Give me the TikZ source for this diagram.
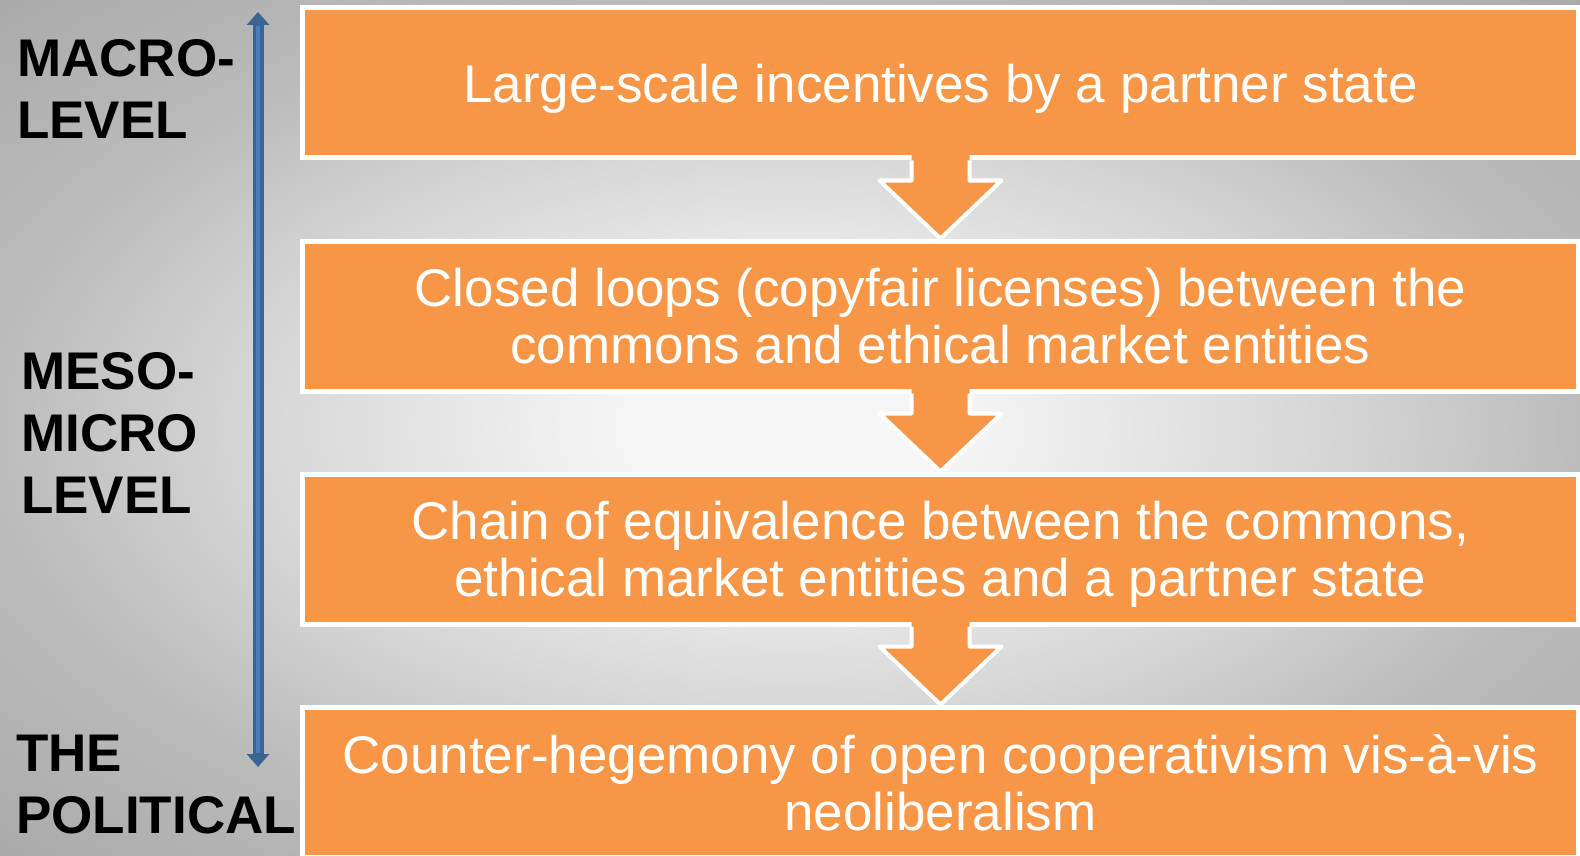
\documentclass[tikz,border=0pt]{standalone}
\usepackage{fontspec}
\setmainfont{Liberation Sans}
\usetikzlibrary{positioning,calc,arrows.meta}
\definecolor{boxorange}{HTML}{F79646}
\definecolor{scaleblue}{HTML}{4A7EBB}
\definecolor{scaledark}{HTML}{3A6494}
\definecolor{bgin}{HTML}{F6F6F6}
\definecolor{bgmid}{HTML}{D6D6D6}
\definecolor{bgedge}{HTML}{BCBCBC}
\definecolor{bgout}{HTML}{A9A9A9}
\pgfdeclareradialshading{bgglow}{\pgfpoint{0bp}{0bp}}{color(0bp)=(bgin); color(5bp)=(bgin); color(17bp)=(bgmid); color(25bp)=(bgedge); color(36bp)=(bgout); color(50bp)=(bgout)}
\tikzset{
  stagebox/.style={rectangle, draw=white, line width=5pt, fill=boxorange, text=white,
    minimum width=1276pt, minimum height=150pt, inner sep=0pt, align=center,
    text depth=0pt, font=\fontsize{53}{57}\selectfont},
  levellabel/.style={anchor=base west, align=left, inner sep=0pt,
    font=\bfseries\fontsize{53}{62}\selectfont},
  blockarrow/.style={draw=white, line width=4pt, line join=round},
}
\begin{document}
\begin{tikzpicture}[x=1pt, y=1pt]
  \useasboundingbox (0,0) rectangle (1580,-856);
  \clip (0,0) rectangle (1580,-856);
  \shade[shading=bgglow] (0,0) rectangle (1580,-856);

  \node[stagebox] (b1) at (940.5,-83) {Large-scale incentives by a partner state};
  \node[stagebox, below=78pt of b1] (b2) {Closed loops (copyfair licenses) between the\\commons and ethical market entities};
  \node[stagebox, below=78pt of b2] (b3) {Chain of equivalence between the commons,\\ethical market entities and a partner state};
  \node[stagebox, below=78pt of b3] (b4) {Counter-hegemony of open cooperativism vis-à-vis\\neoliberalism};

  \foreach \from/\to in {b1/b2, b2/b3, b3/b4} {
    \fill[boxorange] ($(\from.south)+(-29,6)$) -- ($(\to.north)+(-29,58)$) -- ($(\to.north)+(-61,58)$)
      -- (\to.north) -- ($(\to.north)+(61,58)$) -- ($(\to.north)+(29,58)$) -- ($(\from.south)+(29,6)$) -- cycle;
    \draw[blockarrow] (\from.south) ++(-29,0) -- ($(\to.north)+(-29,58)$) -- ($(\to.north)+(-61,58)$)
      -- (\to.north) -- ($(\to.north)+(61,58)$) -- ($(\to.north)+(29,58)$) -- ($(\from.south)+(29,0)$);
  }

  \node[levellabel] (macro) at (17,-139) {MACRO-\\LEVEL};
  \node[levellabel] (meso) at (21,-513) {MESO-\\MICRO\\LEVEL};
  \node[levellabel] (political) at (16,-833) {THE\\POLITICAL};

  \coordinate (scaletop) at (258,-12);
  \coordinate (scalebot) at (258,-767);
  \draw[scaledark, line width=11pt, {Triangle[width=22pt,length=13pt]}-{Triangle[width=22pt,length=13pt]}] (scaletop) -- (scalebot);
  \draw[scaleblue, line width=4pt, shorten <=14pt, shorten >=14pt] (scaletop) -- (scalebot);
\end{tikzpicture}
\end{document}
